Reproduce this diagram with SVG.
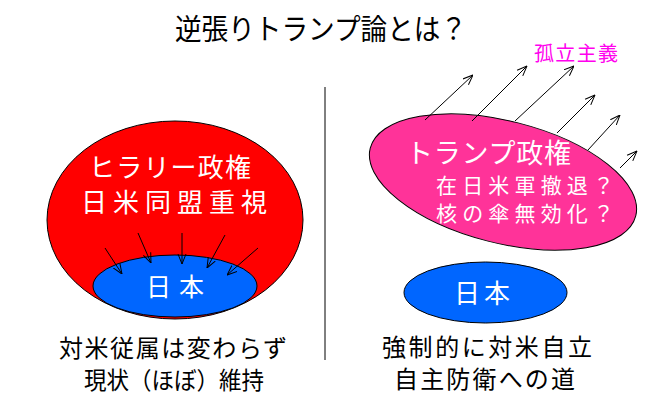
<svg xmlns="http://www.w3.org/2000/svg" width="650" height="408" viewBox="0 0 650 408">
<style>
text{font-family:"Noto Sans CJK JP","Noto Sans",sans-serif;}
.w{fill:#ffffff;}
.k{fill:#000000;}
.ar{stroke:#000;stroke-width:1;fill:none;marker-end:url(#ah);}
.shape{stroke:#000;stroke-width:1;}
</style>
<defs>
<marker id="ah" viewBox="0 0 10 10" refX="10" refY="5" markerWidth="10" markerHeight="10" markerUnits="userSpaceOnUse" orient="auto">
<polyline points="0,1 10,5 0,9" fill="none" stroke="#000" stroke-width="1"/>
</marker>
</defs>
<rect width="650" height="408" fill="#fff"/>
<g id="title"><text x="175" y="40" font-size="29" class="k" textLength="292" lengthAdjust="spacingAndGlyphs">逆張りトランプ論とは？</text></g>
<g id="divider"><line x1="325" y1="87" x2="325" y2="360" stroke="#000" stroke-width="1"/></g>
<g id="hillary">
<ellipse class="shape" cx="175" cy="220" rx="128" ry="99" fill="#ff0000"/>
<text font-size="26" class="w"><tspan x="89" y="177" textLength="162" lengthAdjust="spacing">ヒラリー政権</tspan><tspan x="81" y="212" textLength="186" lengthAdjust="spacing">日米同盟重視</tspan></text>
</g>
<g id="japan-left">
<ellipse class="shape" cx="175" cy="286" rx="82" ry="31" fill="#0066ff"/>
<text x="146" y="296" font-size="25" class="w" textLength="58" lengthAdjust="spacing">日本</text>
</g>
<g id="trump">
<ellipse class="shape" cx="0" cy="0" rx="137" ry="61" fill="#ff3399" transform="translate(503 182) rotate(14.3)"/>
<text font-size="21" class="w"><tspan x="406" y="163" font-size="27" textLength="165" lengthAdjust="spacing">トランプ政権</tspan><tspan x="436" y="193" textLength="178" lengthAdjust="spacing">在日米軍撤退？</tspan><tspan x="436" y="221" textLength="178" lengthAdjust="spacing">核の傘無効化？</tspan></text>
</g>
<g id="isolationism"><text x="534" y="61" font-size="20" fill="#ff00ee" textLength="84" lengthAdjust="spacing">孤立主義</text></g>
<g id="japan-right">
<ellipse class="shape" cx="485.5" cy="292.5" rx="81.5" ry="30.5" fill="#0066ff"/>
<text x="454" y="303" font-size="26" class="w" textLength="56" lengthAdjust="spacing">日本</text>
</g>
<g id="caption-left">
<text font-size="24" class="k"><tspan x="59" y="357" textLength="228" lengthAdjust="spacing">対米従属は変わらず</tspan><tspan x="84" y="389" textLength="180" lengthAdjust="spacingAndGlyphs">現状（ほぼ）維持</tspan></text>
</g>
<g id="caption-right">
<text font-size="24" class="k"><tspan x="382" y="356" textLength="210" lengthAdjust="spacing">強制的に対米自立</tspan><tspan x="394" y="388" textLength="181" lengthAdjust="spacing">自主防衛への道</tspan></text>
</g>
<g id="connectors">
<line class="ar" x1="105" y1="248" x2="122" y2="274"/>
<line class="ar" x1="138" y1="233" x2="151" y2="263"/>
<line class="ar" x1="182" y1="233" x2="182" y2="264"/>
<line class="ar" x1="225" y1="235" x2="207" y2="268"/>
<line class="ar" x1="258" y1="248" x2="227" y2="275"/>
<line class="ar" x1="425" y1="120" x2="473" y2="75"/>
<line class="ar" x1="472" y1="121" x2="527" y2="66"/>
<line class="ar" x1="515" y1="121" x2="574" y2="66"/>
<line class="ar" x1="557" y1="133" x2="595" y2="95"/>
<line class="ar" x1="588" y1="150" x2="620" y2="115"/>
<line class="ar" x1="620" y1="168" x2="637" y2="151"/>
</g>
</svg>
